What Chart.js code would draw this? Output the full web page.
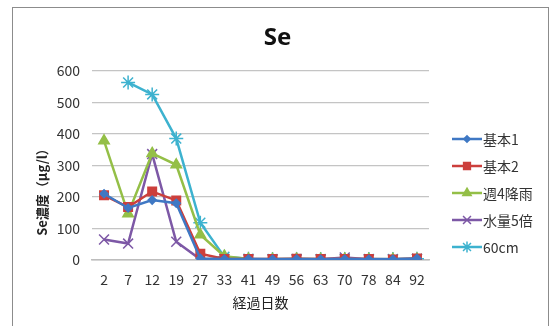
<!DOCTYPE html>
<html>
<head>
<meta charset="utf-8">
<script src="https://cdn.jsdelivr.net/npm/chart.js@4.4.0/dist/chart.umd.min.js"></script>
<style>
  html, body { margin: 0; padding: 0; background: #fff; }
  #wrap { position: relative; width: 555px; height: 326px; }
  #frame { position: absolute; left: 12px; top: 7px; width: 537px; height: 330px; border: 1px solid #8c8c8c; box-sizing: border-box; }
  canvas { position: absolute; left: 0; top: 0; }
</style>
</head>
<body>
<div id="wrap">
  <div id="frame"></div>
  <canvas id="seChart" width="555" height="326"></canvas>
</div>
<script>
// 経過日数
const days = ['2', '7', '12', '19', '27', '33', '41', '49', '56', '63', '70', '78', '84', '92'];
const yTicks = [0, 100, 200, 300, 400, 500, 600];

// Se濃度 (μg/l)
const kihon1 = [210, 165, 190, 180, 5, 3, 3, 2, 3, 2, 3, 2, 2, 5];
const kihon2 = [205, 168, 217, 189, 20, 3, 3, 3, 4, 3, 3, 3, 2, 5];
const shu4 = [378, 147, 338, 302, 80, 12, 3, 2, 3, 2, 3, 2, 2, 3];
const suiryo5 = [65, 52, 336, 58, 2, 3, 2, 2, 2, 2, 8, 2, 2, 3];
const cm60 = [null, 563, 525, 385, 118, 10, 4, 3, 3, 3, 3, 3, 3, 4];

const jp = '"Noto Sans CJK JP", "Noto Sans", sans-serif';

function series(label, data, color, style, radius) {
  return {
    label: label,
    data: data,
    borderColor: color,
    backgroundColor: color,
    borderWidth: 2.5,
    pointStyle: style,
    pointRadius: radius,
    pointBorderColor: color,
    pointBackgroundColor: color,
    pointBorderWidth: 1.5,
    tension: 0,
    spanGaps: false
  };
}

// 凡例 (線 + マーカー) と縦軸タイトル
const extras = {
  id: 'extras',
  afterDraw(chart) {
    const ctx = chart.ctx;
    const x0 = 452, x1 = 482, y0 = 139, step = 27;
    ctx.save();
    chart.data.datasets.forEach((ds, i) => {
      const y = y0 + i * step;
      ctx.strokeStyle = ds.borderColor;
      ctx.lineWidth = 2.5;
      ctx.beginPath();
      ctx.moveTo(x0, y);
      ctx.lineTo(x1, y);
      ctx.stroke();
      ctx.fillStyle = ds.backgroundColor;
      ctx.lineWidth = 1.5;
      Chart.helpers.drawPoint(ctx, {
        pointStyle: ds.pointStyle,
        radius: ds.pointRadius * 0.8,
        borderWidth: 1.5,
        rotation: 0
      }, (x0 + x1) / 2, y);
      ctx.fillStyle = '#333';
      ctx.font = '14px ' + jp;
      ctx.textBaseline = 'middle';
      ctx.textAlign = 'left';
      ctx.fillText(ds.label, x1 + 1, y + 1);
    });
    // 縦軸タイトル
    ctx.translate(42, 189);
    ctx.rotate(-Math.PI / 2);
    ctx.fillStyle = '#222';
    ctx.font = 'bold 13px ' + jp;
    ctx.textAlign = 'center';
    ctx.textBaseline = 'middle';
    ctx.fillText('Se濃度（μg/l）', 0, 0);
    ctx.restore();
  }
};

new Chart(document.getElementById('seChart'), {
  type: 'line',
  data: {
    labels: days,
    datasets: [
      series('基本1', kihon1, '#3f78c4', 'rectRot', 4),
      series('基本2', kihon2, '#cc3f3c', 'rect', 6),
      series('週4降雨', shu4, '#94bf47', 'triangle', 6),
      series('水量5倍', suiryo5, '#7d58a6', 'crossRot', 7),
      series('60cm', cm60, '#3db2cf', 'star', 7)
    ]
  },
  options: {
    responsive: false,
    animation: false,
    layout: { padding: { left: 0, right: 0, top: 8, bottom: 0 } },
    plugins: {
      legend: { display: false },
      tooltip: { enabled: false },
      title: {
        display: true,
        text: 'Se',
        color: '#111',
        font: { family: '"Noto Sans", sans-serif', size: 24, weight: 'bold' },
        padding: { top: 16, bottom: 18 }
      }
    },
    scales: {
      x: {
        offset: true,
        grid: { display: false, drawTicks: false },
        border: { display: true, color: '#bdbdbd', width: 1.5 },
        ticks: { color: '#333', font: { family: jp, size: 14 }, padding: 11, maxRotation: 0, autoSkip: false },
        title: {
          display: true,
          text: '経過日数',
          color: '#222',
          font: { family: jp, size: 14 },
          padding: { top: 0, bottom: 15 }
        },
        afterFit(scale) { scale.height = 66; }
      },
      y: {
        min: 0,
        max: 600,
        afterBuildTicks(scale) { scale.ticks = yTicks.map(v => ({ value: v })); },
        grid: { color: '#c4c4c4', lineWidth: 1.2, drawTicks: false },
        border: { display: false },
        ticks: { color: '#333', font: { family: jp, size: 14 }, padding: 12 },
        afterFit(scale) { scale.width = 92; }
      },
      legendSpace: {
        position: 'right',
        min: 0,
        max: 1,
        grid: { display: false },
        border: { display: false },
        ticks: { display: false },
        afterFit(scale) { scale.width = 126; }
      }
    }
  },
  plugins: [extras]
});
</script>
</body>
</html>
